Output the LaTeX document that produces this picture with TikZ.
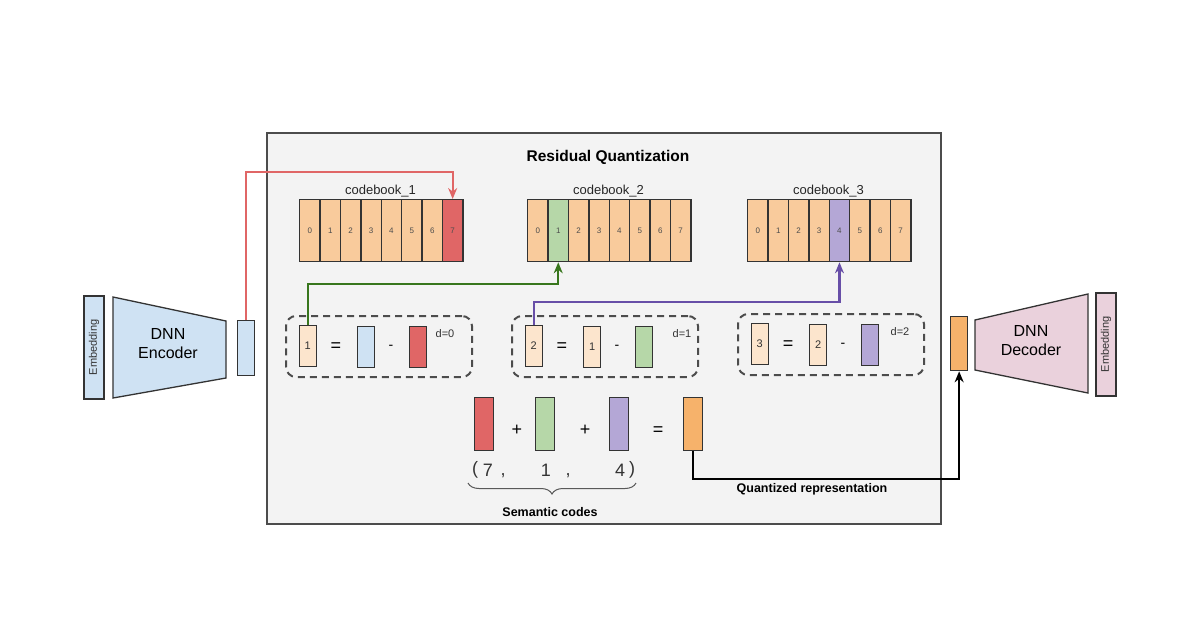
\documentclass[tikz,border=0pt]{standalone}
\usepackage{fontspec}
\setmainfont{Liberation Sans}
\usetikzlibrary{arrows.meta,decorations.pathreplacing}

\definecolor{peach}{HTML}{F9CB9C}
\definecolor{lightpeach}{HTML}{FCE5CD}
\definecolor{cbred}{HTML}{E06666}
\definecolor{cbgreen}{HTML}{B6D7A8}
\definecolor{cbpurple}{HTML}{B4A7D6}
\definecolor{qorange}{HTML}{F6B26B}
\definecolor{encblue}{HTML}{CFE2F3}
\definecolor{decpink}{HTML}{EAD1DC}
\definecolor{boxgray}{HTML}{F3F3F3}
\definecolor{redline}{HTML}{E06666}
\definecolor{greenline}{HTML}{38761D}
\definecolor{purpleline}{HTML}{674EA7}

\begin{document}
\begin{tikzpicture}[x=1pt, y=-1pt,
  cell/.style={draw=black!80, line width=1.3pt, fill=peach, minimum width=20.4pt,
    minimum height=62pt, inner sep=0pt, anchor=north west,
    font=\fontsize{8}{9}\selectfont, text=black!70},
  vec/.style={draw=black!80, line width=1.3pt, minimum width=17pt, minimum height=41pt,
    inner sep=0pt, anchor=north west, font=\fontsize{11}{12}\selectfont, text=black!80},
  bigvec/.style={vec, minimum width=19pt, minimum height=53pt},
  group/.style={draw=black!70, dash pattern=on 7pt off 5pt, line width=2pt,
    rounded corners=10pt, minimum width=186pt, minimum height=61pt, anchor=north west, inner sep=0pt},
  op/.style={font=\fontsize{18}{20}\selectfont, inner sep=0pt},
  small/.style={font=\fontsize{11}{12}\selectfont, text=black!80, inner sep=0pt},
  emb/.style={draw=black!80, line width=1.3pt, rotate=90, minimum width=103pt, minimum height=20pt,
    inner sep=0pt, font=\fontsize{11}{12}\selectfont, text=black!80},
  net/.style={draw=black!80, line width=1.3pt},
  nettext/.style={align=center, font=\fontsize{16}{19}\selectfont, inner sep=0pt},
  link/.style={line width=2.2pt, -{Stealth[length=11pt, width=9pt]}},
  caption/.style={font=\bfseries\fontsize{12.5}{14}\selectfont, inner sep=0pt}
]
\useasboundingbox (0,0) rectangle (1200,630);

% residual quantization frame
\node[draw=black!70, fill=boxgray, line width=1.5pt, minimum width=674pt, minimum height=391pt,
  inner sep=0pt, anchor=north west] (rq) at (266,132) {};
\node[font=\bfseries\fontsize{15.5}{18}\selectfont] (title) at (608,157) {Residual Quantization};

% codebooks
\foreach \n/\x/\hit/\col in {1/299/7/cbred, 2/527/1/cbgreen, 3/747/4/cbpurple} {
  \node[font=\fontsize{13}{15}\selectfont, inner sep=0pt, text=black!85] (lab\n) at (\x+81.5,191) {codebook\_\n};
  \foreach \i in {0,...,7} {
    \ifnum\i=\hit \def\cellcol{\col}\else \def\cellcol{peach}\fi
    \node[cell, fill=\cellcol] (cb\n-\i) at (\x+\i*20.4,199) {\i};
  }
}

% encoder
\node[emb, fill=encblue] (embin) at (94,347.5) {Embedding};
\draw[net, fill=encblue] (113,297) -- (226,321) -- (226,378) -- (113,398) -- cycle;
\node[nettext] (enc) at (168,344) {DNN\\Encoder};
\node[vec, fill=encblue, minimum height=55pt] (encout) at (237,320) {};

% decoder
\node[vec, fill=qorange, minimum height=54pt] (decin) at (950,316) {};
\draw[net, fill=decpink] (975,320) -- (1088,294) -- (1088,393) -- (975,370) -- cycle;
\node[nettext] (dec) at (1031,341) {DNN\\Decoder};
\node[emb, fill=decpink] (embout) at (1106,344.5) {Embedding};

% residual steps
\foreach \g/\gx/\gy/\lhs/\mtxt/\mcol/\col/\d/\dx in
  {1/285/315/1//encblue/cbred/0/160, 2/511/315/2/1/lightpeach/cbgreen/1/171, 3/737/313/3/2/lightpeach/cbpurple/2/163} {
  \node[group] (grp\g) at (\gx,\gy) {};
  \node[vec, fill=lightpeach] (res\g) at (\gx+13.5,\gy+10) {\lhs};
  \node[op] (eq\g) at (\gx+51,\gy+32) {=};
  \node[vec, fill=\mcol] (mid\g) at (\gx+72,\gy+11) {\mtxt};
  \node[op, font=\fontsize{14}{16}\selectfont] (minus\g) at (\gx+106,\gy+32) {-};
  \node[vec, fill=\col] (cw\g) at (\gx+123.5,\gy+11) {};
  \node[small] (d\g) at (\gx+\dx,\gy+19) {d=\d};
}

% sum of codewords
\node[bigvec, fill=cbred] (sum1) at (474,397) {};
\node[op] (plus1) at (517,430) {+};
\node[bigvec, fill=cbgreen] (sum2) at (535,397) {};
\node[op] (plus2) at (585,430) {+};
\node[bigvec, fill=cbpurple] (sum3) at (609,397) {};
\node[op] (eqsum) at (658,431) {=};
\node[bigvec, fill=qorange] (qsum) at (683,397) {};

% semantic codes
\node[op, text=black!80] (c0) at (475,470) {(};
\node[op, text=black!80] (c1) at (488,470) {7};
\node[op, text=black!80] (c2) at (503,476) {,};
\node[op, text=black!80] (c3) at (546,470) {1};
\node[op, text=black!80] (c4) at (568,476) {,};
\node[op, text=black!80] (c5) at (620,470) {4};
\node[op, text=black!80] (c6) at (632,470) {)};
\coordinate (bl) at (468,483);
\coordinate (br) at (636,483);
\draw[black!65, line width=1pt, decorate, decoration={brace, mirror, amplitude=11pt}] (bl) -- (br);
\node[caption] (sem) at (550,512) {Semantic codes};
\node[caption] (qrep) at (812,489) {Quantized representation};

% connectors
\draw[link, redline] (encout.north) -- ++(0,-148) -| (cb1-7.north);
\draw[link, greenline] (res1.north) -- ++(0,-41) -| (cb2-1.south);
\draw[link, purpleline] (res2.north) -- ++(0,-23) -| (cb3-4.south);
\draw[link, black] (qsum.south) -- ++(0,28) -| (decin.south);
\end{tikzpicture}
\end{document}
